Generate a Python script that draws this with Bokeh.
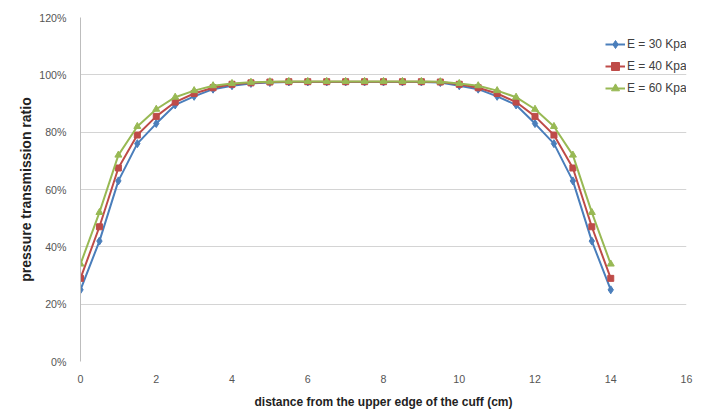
from bokeh.plotting import figure
from bokeh.models import NumeralTickFormatter, FixedTicker, Legend, LegendItem, Range1d
from bokeh.embed import file_html
from bokeh.resources import INLINE

x = [0, 0.5, 1, 1.5, 2, 2.5, 3, 3.5, 4, 4.5, 5, 5.5, 6, 6.5, 7, 7.5, 8, 8.5, 9, 9.5,
     10, 10.5, 11, 11.5, 12, 12.5, 13, 13.5, 14]
e30 = [0.25, 0.42, 0.63, 0.76, 0.83, 0.895, 0.925, 0.95, 0.962, 0.97, 0.973, 0.975, 0.975, 0.975, 0.975,
       0.975, 0.975, 0.975, 0.975, 0.973, 0.962, 0.95, 0.925, 0.895, 0.83, 0.76, 0.63, 0.42, 0.25]
e40 = [0.29, 0.47, 0.675, 0.79, 0.855, 0.905, 0.935, 0.955, 0.967, 0.972, 0.975, 0.976, 0.976, 0.976, 0.976,
       0.976, 0.976, 0.976, 0.976, 0.975, 0.967, 0.955, 0.935, 0.905, 0.855, 0.79, 0.675, 0.47, 0.29]
e60 = [0.34, 0.52, 0.72, 0.82, 0.88, 0.922, 0.945, 0.962, 0.97, 0.974, 0.976, 0.977, 0.977, 0.977, 0.977,
       0.977, 0.977, 0.977, 0.977, 0.976, 0.97, 0.962, 0.945, 0.922, 0.88, 0.82, 0.72, 0.52, 0.34]
labels = ["E = 30 Kpa", "E = 40 Kpa", "E = 60 Kpa"]
x_ticks = [0, 2, 4, 6, 8, 10, 12, 14, 16]
y_ticks = [0, 0.2, 0.4, 0.6, 0.8, 1.0, 1.2]

p = figure(width=708, height=412, output_backend="svg", toolbar_location=None,
           x_range=Range1d(0, 16), y_range=Range1d(0, 1.2),
           min_border_left=80, min_border_right=22, min_border_top=17, min_border_bottom=51)
p.outline_line_color = None
p.background_fill_color = "white"

p.xaxis.ticker = FixedTicker(ticks=x_ticks)
p.yaxis.ticker = FixedTicker(ticks=y_ticks)
p.yaxis.formatter = NumeralTickFormatter(format="0%")
for ax in (p.xaxis[0], p.yaxis[0]):
    ax.major_tick_line_color = None
    ax.minor_tick_line_color = None
    ax.major_label_text_font = "Liberation Sans"
    ax.major_label_text_font_size = "8pt"
    ax.major_label_text_color = "#555555"
    ax.axis_label_text_font = "Liberation Sans"
    ax.axis_label_text_font_style = "bold"
    ax.axis_label_text_color = "#222222"
p.xaxis.axis_label_text_font_size = "9pt"
p.yaxis.axis_label_text_font_size = "10.5pt"
p.xaxis.axis_line_color = None
p.yaxis.axis_line_color = "#bdbdbd"
p.xaxis.major_label_standoff = 7
p.yaxis.major_label_standoff = 8
p.xaxis.axis_label_standoff = 9
p.yaxis.axis_label_standoff = 2
p.xaxis.axis_label = "distance from the upper edge of the cuff (cm)"
p.yaxis.axis_label = "pressure transmission ratio"
p.xgrid.grid_line_color = None
p.ygrid.grid_line_color = "#d4d4d4"
p.ygrid.grid_line_width = 1

colors = ["#4a7ebb", "#be4b48", "#98b954"]
l1 = p.line(x, e30, line_color=colors[0], line_width=2)
m1 = p.scatter(x, e30, marker="diamond", size=8, fill_color=colors[0], line_color=colors[0])
l2 = p.line(x, e40, line_color=colors[1], line_width=2)
m2 = p.scatter(x, e40, marker="square", size=6, fill_color=colors[1], line_color=colors[1])
l3 = p.line(x, e60, line_color=colors[2], line_width=2)
m3 = p.scatter(x, e60, marker="triangle", size=7, fill_color=colors[2], line_color=colors[2])

legend = Legend(items=[LegendItem(label=labels[0], renderers=[l1, m1]),
                       LegendItem(label=labels[1], renderers=[l2, m2]),
                       LegendItem(label=labels[2], renderers=[l3, m3])],
                location=(525, 263))
legend.background_fill_alpha = 0
legend.border_line_color = None
legend.label_text_font = "Liberation Sans"
legend.label_text_font_size = "9pt"
legend.label_text_color = "#404040"
legend.glyph_width = 20
legend.label_standoff = 2
legend.spacing = 2
legend.margin = 0
legend.padding = 0
p.add_layout(legend)

open("out.html", "w").write(file_html(p, INLINE))
